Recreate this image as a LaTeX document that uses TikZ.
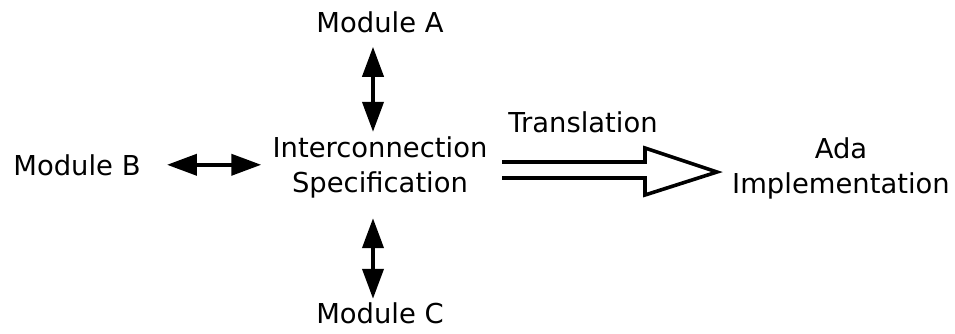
\documentclass[tikz,border=0pt]{standalone}
\usepackage{fontspec}
\setmainfont{DejaVu Sans}
\usetikzlibrary{arrows.meta, calc}

\begin{document}
\begin{tikzpicture}[x=0.5pt, y=-0.5pt,
    font=\fontsize{13.7}{17.5}\selectfont,
    txt/.style={inner sep=0pt, align=center},
    biarrow/.style={line width=2pt,
      {Triangle[length=15pt,width=10.5pt]}-{Triangle[length=15pt,width=10.5pt]}},
    hollow/.style={line width=1.8pt, line join=miter}]
  \useasboundingbox (0,0) rectangle (955,333);
  \node[txt, anchor=base] (ma) at (380,32) {Module A};
  \node[txt, anchor=base] (mb) at (77,175) {Module B};
  \node[txt, anchor=base] (mc) at (380,323) {Module C};
  \node[txt] (ic) at (380,167) {Interconnection\\Specification};
  \node[txt] (ada) at (841,168) {Ada\\Implementation};
  \node[txt, anchor=base] (tr) at (583,132) {Translation};

  % module links
  \draw[biarrow, shorten <=7pt, shorten >=2pt]
    ([xshift=-3.5pt]ma.south) -- ([xshift=-3.5pt]ic.north);
  \draw[biarrow, shorten <=13pt, shorten >=5.5pt]
    (mb.east) -- (mb.east -| ic.west);
  \draw[biarrow, shorten <=10pt, shorten >=1.5pt]
    ([xshift=-3.5pt]ic.south) -- ([xshift=-3.5pt]mc.north);

  % translation arrow
  \coordinate (ts) at (502,170);
  \coordinate (tt) at (717,172);
  \draw[hollow] ($(ts)+(0,-8)$) -- ++(143,0) -- ++(0,-14) -- (tt)
    -- ($(ts)+(143,25)$) -- ++(0,-17) -- ($(ts)+(0,8)$);
\end{tikzpicture}
\end{document}
